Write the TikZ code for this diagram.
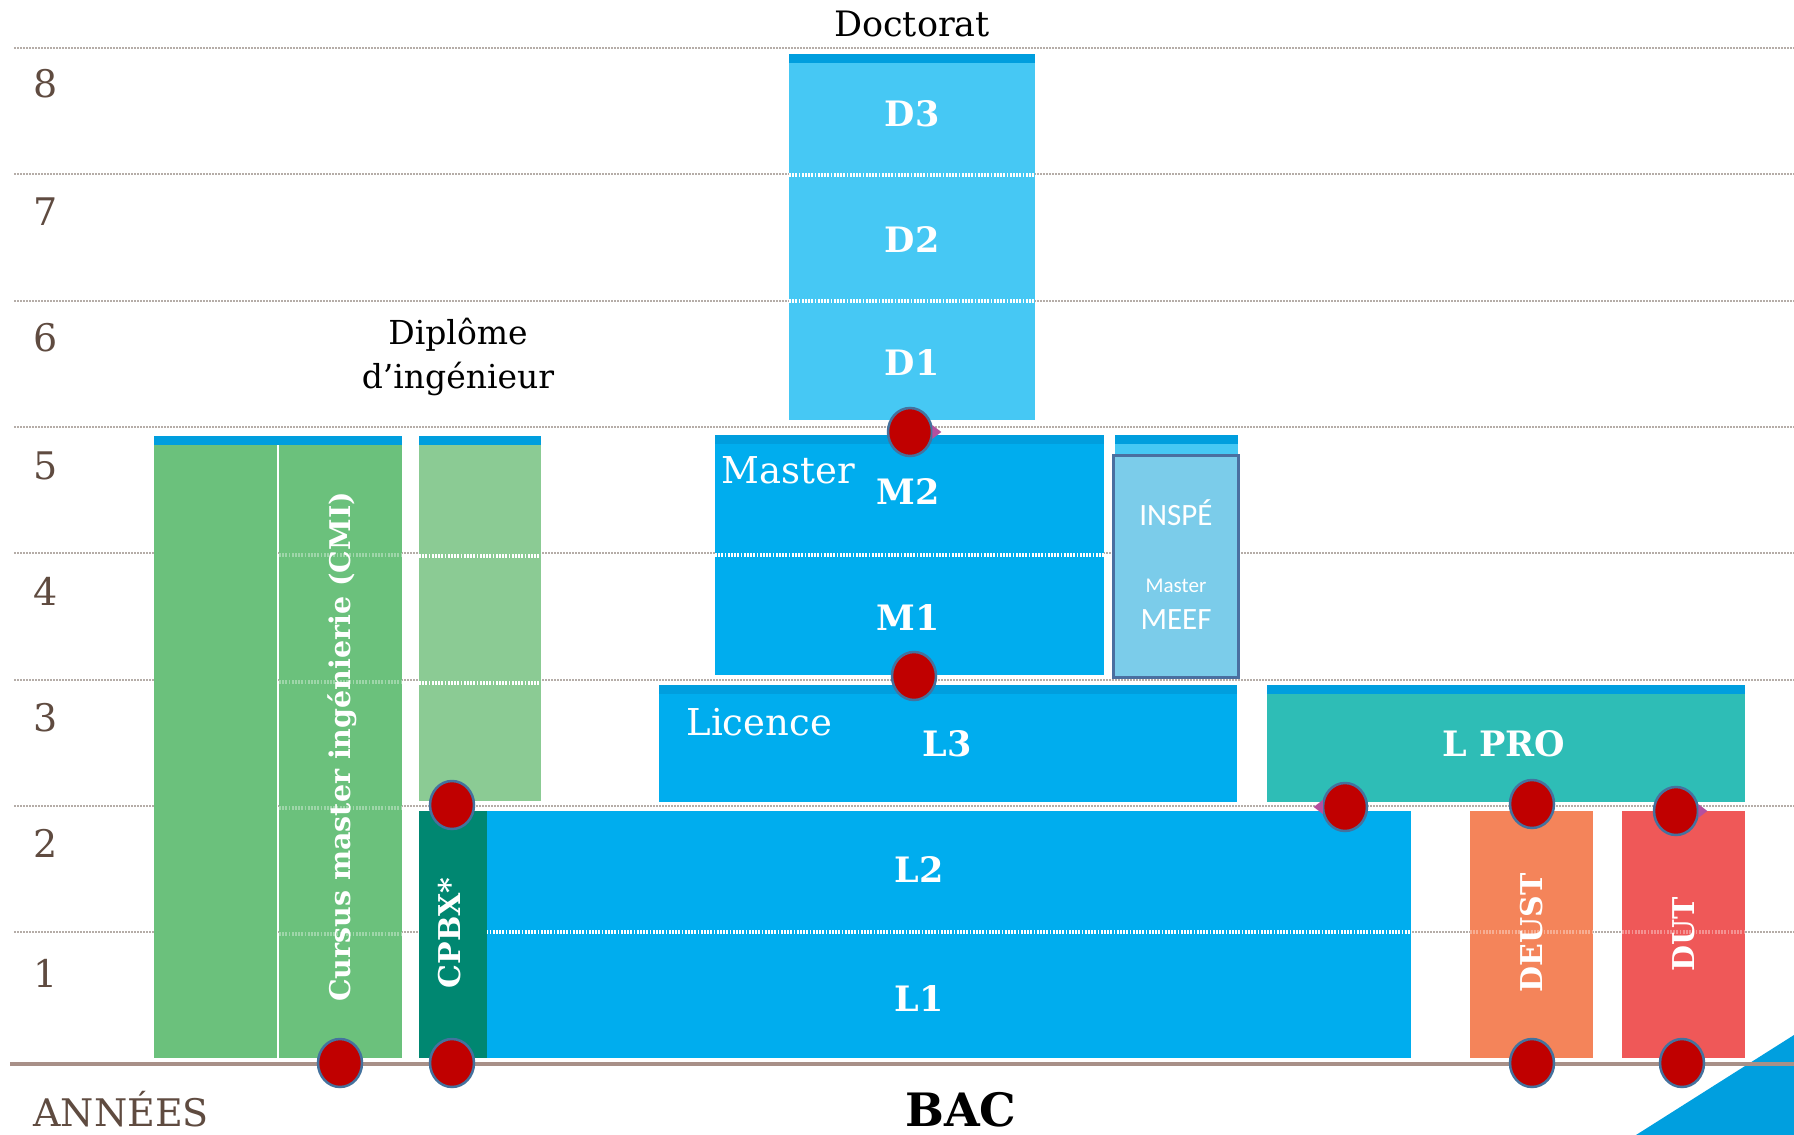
\documentclass[tikz,border=0pt]{standalone}
\usepackage{fontspec}
\setmainfont{DejaVu Serif}
\newfontfamily\sansf{Carlito}
\usetikzlibrary{shapes.geometric}
\definecolor{gridc}{HTML}{B5ADA8}
\definecolor{basec}{HTML}{A89088}
\definecolor{numc}{HTML}{5F4B40}
\definecolor{blueM}{HTML}{00ADEE}
\definecolor{blueD}{HTML}{46C8F4}
\definecolor{barc}{HTML}{009EDE}
\definecolor{inspec}{HTML}{7BCCEA}
\definecolor{inspeb}{HTML}{4A6FA0}
\definecolor{tealc}{HTML}{2EBDB6}
\definecolor{cmic}{HTML}{6BC17C}
\definecolor{cmil}{HTML}{8BCB94}
\definecolor{cpbxc}{HTML}{008771}
\definecolor{deustc}{HTML}{F4845A}
\definecolor{dutc}{HTML}{EF5858}
\definecolor{dotred}{HTML}{C00000}
\definecolor{dotb}{HTML}{44729E}
\definecolor{pinkc}{HTML}{B4509E}
\definecolor{triC}{HTML}{009FDF}
\begin{document}
\begin{tikzpicture}[x=1pt,y=-1pt,
  box/.style={draw=none,inner sep=0pt,outer sep=0pt,anchor=north west},
  bar/.style={box,fill=barc,minimum height=9pt},
  grid/.style={gridc,line width=1.3pt,dash pattern=on 1.6pt off 1.4pt},
  hatch/.style={white,line width=3.5pt,dash pattern=on 1.8pt off 1.4pt},
  fhatch/.style={white,opacity=0.35,line width=3.5pt,dash pattern=on 1.8pt off 1.4pt},
  num/.style={text=numc,font=\fontsize{38}{38}\selectfont},
  lab/.style={text=white,font=\fontsize{35}{35}\selectfont\bfseries},
  vlab/.style={text=white,font=\fontsize{30}{30}\selectfont\bfseries,rotate=90},
  dotn/.style={ellipse,minimum width=44pt,minimum height=48pt,inner sep=0pt,fill=dotred,draw=dotb,line width=2.5pt},
]
\useasboundingbox (0,0) rectangle (1794,1135);
\fill[white] (0,0) rectangle (1794,1135);
% grid lines
\foreach \yy in {48,174,301,427,553,680,806,932}
  \draw[grid] (14,\yy) -- (1794,\yy);
% numbers
\node[num] (n8) at (46,84) {8};
\node[num] (n7) at (46,212) {7};
\node[num] (n6) at (46,338) {6};
\node[num] (n5) at (46,466) {5};
\node[num] (n4) at (46,591) {4};
\node[num] (n3) at (46,718) {3};
\node[num] (n2) at (46,843) {2};
\node[num] (n1) at (46,973) {1};
% bottom triangle and baseline
\fill[triC] (1636,1135) -- (1794,1035) -- (1794,1135) -- cycle;
\draw[basec,line width=3.5pt] (10,1064) -- (1794,1064);
% Doctorat column
\node[box,fill=blueD,minimum width=246pt,minimum height=366pt] (dcol) at (789,54) {};
\node[bar,minimum width=246pt] (dbar) at (789,54) {};
\draw[hatch] (dcol.west |- 0,175) -- (dcol.east |- 0,175);
\draw[hatch] (dcol.west |- 0,301) -- (dcol.east |- 0,301);
\node[lab] (d3) at (912,114) {D3};
\node[lab] (d2) at (912,240) {D2};
\node[lab] (d1) at (912,363) {D1};
\node[font=\fontsize{35}{35}\selectfont,anchor=base] (doct) at (912,36) {Doctorat};
% Master
\node[box,fill=blueM,minimum width=389pt,minimum height=240pt] (mast) at (715,435) {};
\node[bar,minimum width=389pt] (mbar) at (715,435) {};
\draw[hatch] (mast.west |- 0,555) -- (mast.east |- 0,555);
\node[text=white,font=\fontsize{37}{37}\selectfont,anchor=base west] (mastl) at (718,483) {Master};
\node[lab] (m2) at (908,492) {M2};
\node[lab] (m1) at (908,618) {M1};
% INSPE
\node[box,fill=blueD,minimum width=123pt,minimum height=20pt] (ibg) at (1115,435) {};
\node[bar,minimum width=123pt] (ibar) at (1115,435) {};
\node[box,fill=inspec,draw=inspeb,line width=3pt,minimum width=125pt,minimum height=222pt] (inspe) at (1113,455) {};
\node[text=white,font=\sansf\fontsize{31}{31}\selectfont,anchor=base] (inspet) at (1176,525) {INSPÉ};
\node[text=white,font=\sansf\fontsize{21}{21}\selectfont,anchor=base] (meefa) at (1176,592) {Master};
\node[text=white,font=\sansf\fontsize{31}{31}\selectfont,anchor=base] (meefb) at (1176,629) {MEEF};
% Licence
\node[box,fill=blueM,minimum width=578pt,minimum height=117pt] (lic) at (659,685) {};
\node[bar,minimum width=578pt] (lbar) at (659,685) {};
\node[text=white,font=\fontsize{37}{37}\selectfont,anchor=base west] (licl) at (683,735) {Licence};
\node[lab] (l3) at (947,744) {L3};
% L PRO
\node[box,fill=tealc,minimum width=478pt,minimum height=117pt] (lpro) at (1267,685) {};
\node[bar,minimum width=478pt] (lpbar) at (1267,685) {};
\node[lab] (lprot) at (1504,744) {L PRO};
% L1 L2
\node[box,fill=blueM,minimum width=924pt,minimum height=247pt] (l12) at (487,811) {};
\draw[hatch] (480,932) -- (l12.east |- 0,932);
\node[lab] (l2) at (919,870) {L2};
\node[lab] (l1) at (919,999) {L1};
% CPBX
\node[box,fill=cpbxc,minimum width=68pt,minimum height=247pt] (cpbx) at (419,811) {};
\node[vlab] (cpbxt) at (450,933) {CPBX*};
% CMI
\node[box,fill=cmic,minimum width=123pt,minimum height=622pt] (cmia) at (154,436) {};
\node[box,fill=cmic,minimum width=123pt,minimum height=622pt] (cmib) at (279,436) {};
\node[bar,minimum width=248pt] (cmibar) at (154,436) {};
\foreach \yy in {555,682,808,934}
  \draw[fhatch] (cmib.west |- 0,\yy) -- (cmib.east |- 0,\yy);
\node[vlab,font=\fontsize{28.5}{28.5}\selectfont\bfseries] (cmit) at (342,747) {Cursus master ingénierie (CMI)};
% light green column
\node[box,fill=cmil,minimum width=122pt,minimum height=365pt] (cml) at (419,436) {};
\node[bar,minimum width=122pt] (cmlbar) at (419,436) {};
\draw[hatch] (cml.west |- 0,556) -- (cml.east |- 0,556);
\draw[hatch] (cml.west |- 0,683) -- (cml.east |- 0,683);
\node[font=\fontsize{33}{44}\selectfont,align=center,anchor=base] (dipl) at (458,388) {Diplôme\\d’ingénieur};
% DEUST DUT
\node[box,fill=deustc,minimum width=123pt,minimum height=247pt] (deust) at (1470,811) {};
\node[box,fill=dutc,minimum width=123pt,minimum height=247pt] (dut) at (1622,811) {};
\draw[fhatch] (deust.west |- 0,932) -- (deust.east |- 0,932);
\draw[fhatch] (dut.west |- 0,932) -- (dut.east |- 0,932);
\node[vlab] (deustt) at (1532,933) {DEUST};
\node[vlab] (dutt) at (1684,934) {DUT};
% bottom labels
\node[text=numc,font=\fontsize{38}{38}\selectfont,anchor=west] (annees) at (30,1109) {ANNÉES};
\node[font=\fontsize{46}{46}\selectfont\bfseries] (bac) at (961,1110) {BAC};
% red dots
\node[dotn] (p1) at (910,432) {};
\node[dotn] (p2) at (914,676) {};
\node[dotn] (p3) at (340,1063) {};
\node[dotn] (p4) at (452,1063) {};
\node[dotn] (p5) at (452,805) {};
\node[dotn] (p6) at (1345,807) {};
\node[dotn] (p7) at (1532,804) {};
\node[dotn] (p8) at (1676,811) {};
\node[dotn] (p9) at (1532,1063) {};
\node[dotn] (p10) at (1682,1063) {};
% small pink arrow tips
\fill[pinkc] ([xshift=-1pt]p1.east) ++(0,-7) -- ++(9,7) -- ++(-9,7) -- cycle;
\fill[pinkc] ([xshift=1pt]p6.west) ++(0,-7) -- ++(-9,7) -- ++(9,7) -- cycle;
\fill[pinkc] ([xshift=-1pt]p8.east) ++(0,-7) -- ++(9,7) -- ++(-9,7) -- cycle;
\end{tikzpicture}
\end{document}
